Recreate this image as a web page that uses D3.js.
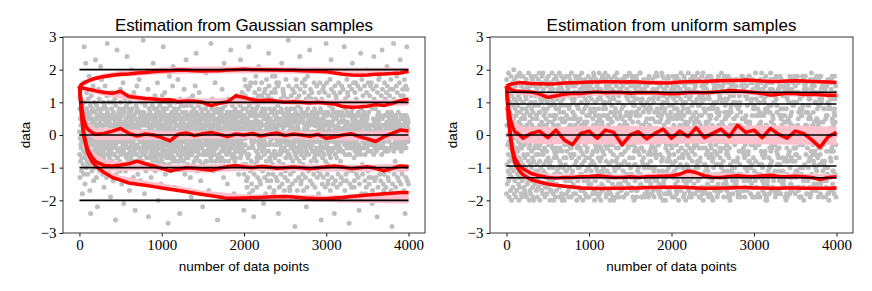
<!DOCTYPE html>
<html>
<head>
<meta charset="utf-8">
<script src="https://cdn.jsdelivr.net/npm/d3@7"></script>
<style>
  body { margin: 0; background: #fff; }
  svg { display: block; }
</style>
</head>
<body>
<svg id="chart" width="872" height="291"></svg>
<script>
// ---------------- data ----------------
const xTicks = [0, 1000, 2000, 3000, 4000];
const yTicks = [-3, -2, -1, 0, 1, 2, 3];
const titles = ["Estimation from Gaussian samples", "Estimation from uniform samples"];
const xLabel = "number of data points";
const yLabel = "data";

// samples, one every 2 data points; each pair of digits = value*10 + 30
const sampleStep = 2;
const gaussSamples = `
31243817293541222733 26443019362823391234 29372132462530183557 40233328153136245229 34202738314326223037
18332925413521312748 24303613283933220632 37274230231934293825 31213545273216302440 28342237312629533320
35253017392832243608 23382733213044263529 41291931342537222851 26363024473320382731 32183529254023313614
30273922332845262134 24353138173027422958 37212833263631194025 29342330482735243211 36253220293826334328
22314027351630372433 33282436304121293404 27393218263135235630 31233629422533202837 25342838223019353144
40263124332837152932 28362132274630253809 34293726203324314127 19322735302339283454 33243042283622312638
21372634132932402531 30283523372750332236 38322429342128173626 27433136253035220733 35262031392429373245
24333827301834264129 32222947263531232837 16363325312840302134 29312435223726593327 37253430281236243139
26402833193125352923 33293621342744302605 28352331382632203730 41243036273317293525 23323928312234265236
31272534203829332442 36193326303523312837 25383022462934273210 30332137282436313926 34263128351530233340
22362942273225383157 35243730263321284329 29311834382730362332 38283325314024293503 27353021362632482834
31233933291935273025 24372831342945223651 36302635233228381431 30253427403122332937 20332936283531264724
33273824312236302806 28412532352723343139 35293126203730243328 26342239303244282536 31183528332630375323
39302733243629213235 23323629314125342730 32263035172833392411 29372431362532274233 34213328303826313522
27363145252934233055 37282330343219362926 25333927312435304332 30223436283327163138 33312629372132352408
21353033274029253631 36273224343038222849 28392531223527333036 31243728332613342927 40302835253236292358
26333122382830354124 32293627301933253437 24352833463126302229 35273038263429373104 29322331352840243327
33203429273631223830 27373025322335442834 38262934303117273652 22313528333925322630 31362732243034293715
30283326413522312736 25342937312733203056 34302432283626353923 28233730352931243312 36322733223038282534
23293526314227333037 33373028342532183627 29253136263339302353 37312824322935264330 26343231273821362907
32183625304733274235 29452133381631243414 35301731233744332657 24323912343045363119 31463337292215284032
27383013364126342905 36291832284333213746 30334835253138142334 22363117392442332851 34274430263216313629
28152334372933464230 33253819313627204109 26353043242817373144 38122733302235473236 31342516363342311855
25304531271423383428 35223216333037434124 29374834213118333012 32273413382536442348 24432936172730354632
37301633283924453506 30463122341433293725 27243541291838263052 33152837253021443243 21344229362613283317
36281935234727342938 28332541371635302459 31453728332414362713 34301823323826423540 26353315274436222834
30193627342543383102 35322416293728472645 23413136133325343928 32361725354222312754 29443430263815243616
37253046283418272135 27132931362343303247 33284526173124374108 25363214332748343831 31192735244236283356
36271630442629352241 28344337271531253611 30253618293546332338 34142824334137263150 22334536281725303519
35293412322443312837 29462633183827323404 32283741251535232944 26321735334531362430 33432829142234273758
30274636263118342115 37162530422832263339 24343147331323302953 31443633173034253820 28331526374329353106
35263245292416372842 27413531231436283226 33371825314627303449 30322643342815222910 36173130453725343235
25354429321630362857 32302713244138293318 29341631284726303743 34274233361932243103 31452428153036272639
26293714304428333552 38311934263246362314 30163327432535293246 27284136183331243430 33452630371734312707
31251529333644323055 24333038123147352621 35182842342633303740 29364527301624332812 32273414284331263550
36311933254627373017 28153230422933283145 30292546311730273809 33133028442735312454 27413429163326303238
34281731452533352905 30432736143134263747 26354832331828363020 32163527294231243356 35274433312615302813
29183630462831332541 31361426324330293451 33453137173025323616 28311930354234312944 36264732133337273102
30342715314432362658 25413518333027343222 33281436294535263048 30432917273428333710 34162633462832293153
27334229153625352819 32183527443133302642 29361332284727343506 35314534172636293257 31443316352932283415
`;
const unifSamples = `
12473321381544273019 41244916352811432237 18314526134034482029 36102342173246253914 27441935502230124133
47163824294511362140 20331348263743183125 39284215341023461749 14413037222748331235 45192611433816294021
32481740241436442713 23354629124220313847 41113319372845152430 16442249311839264310 34271336452112402942
48203825163347233514 11372943221031461839 26451532404819274224 43133621283544113017 19314714392426374933
37221045274115322046 28403418133043482512 15492438441936213341 46264211313714291735 22331847251240453828
40143023483427164320 31432136104622391344 13294527411749342616 44361240202933104723 25183930354211243648
38472613231541301932 17254433463820432811 49321422372635184540 21393148124428251034 35114117302047372342
10422734433116213919 42234812193625453227 29163544281342114838 14462039334730261624 33301126492318413545
46193731154024122943 24412814362145334817 12354322473010392631 39271646203438144223 20483229114426351847
43132540331849213728 30374510244213314416 17223438472733461241 45311923391136254034 26444016284820431530
11362342321445283821 37154730194129172446 22431235442533493113 48283821103716402736 16403047262043124525
34191433414623381144 27493618351231224229 41102644233247153419 13334825384318362040 36241739142940274932
47383111452212442617 19264236293548163343 32452113401827411035 25123746174734303922 44341527321142244628
10414620483619371431 38172943222645113049 23473531124021432615 42201140371533284436 15324424463013472138
35432414274539193211 28113947332216344825 46291636184231123744 12483321412746261530 31214329144923403518
43362045301737132742 18144832473411452339 40422710253930214116 21263744361348321147 37451328194125463420
14304538432417362849 49183115264640114433 26412241113314392137 33234725392044284612 11381746344529163243
45354013212812473824 20112837481641332530 39463522153826204317 24271243304735441341 32404319421120313726
48162534243046234914 16443848174332132736 41311927371215423445 13244611453538291822 36492939281923484010
29154216334447371231 44381431102630174627 19223445414012253648 34472320351343392418 22123642183727143144
30431826461139214835 45172941332414441938 11364722154231274013 27481235382045163243 42253710294723361428
18334430211341492637 35142646433117243920 23401138163648331245 47293419402510423016 15442143271833374624
38204913344428112341 26371632471242303519 43113125193922461748 12474036262915344427 33241448124537202940
46352717412131134922 20164339313447261136 39422211231713413330 14283645484026184212 29491028143244382146
41134521372619294734 24333044204612431525 48191734421138233641 17433812283527483114 36262447114316332239
10384623392040144429 32451331251430462718 44213540463724113847 21122815334845361332 37414226172318254121
13302049443134402845 45473318221511194626 28174837354139301635 40361524132725473711 19244143483646122344
31112614301021423338 47393732194514284520 16281246402242351831 35443020273329154047 22154539164736222913
43322311381812394325 12423942214033311137 30251829452848173546 48134335321326442416 25461423113520274230
14363447434245131941 39204716242531344822 33482233341617463212 20314027154641211436 46112744473223383927
27391119293843162649 41223630411428454318 11454638184412331740 36272921372136114733 18344246253049292124
44162013444716403615 23413240123724254543 38104833331146421028 15381628464319143037 32233912202639374421
49472543393413222746 26144436141835471632 40333017314027194211 13431247482941312539 37213724261232441323
21441926164521364845 45124538353147173330 29362315421915283814 16303445223644431142 34461432102338122926
42184111454322344635 24402844342512482017 47153630131533233744 17331322283946401431 39264740404826184322
12452426191740322447 31193148433314433513 46374314231130274138 20111837314236111828 36423820482720394716
14281046164448213245 43483329372429461233 28174412263717163920 35392241411442362341 11234735123025304918
45442917334613242737 22321543472134451425 40134024204047134348 19353531381523333411 33472639283439412129
48241216154844264043 16414345442211191734 30163827212831384622 44302011354345143616 25453136461820471240
38124642103928322931 13381723322541224447 46264148253515341913 27192533421237483836 41433418304527112342
`;

// running estimates (red), sampled at estX
const estX = [0, 25, 50, 75, 100, 150, 200, 300, 400, 500, 600, 700, 800, 900, 1000,
  1100, 1200, 1300, 1400, 1500, 1600, 1700, 1800, 1900, 2000, 2100, 2200, 2300, 2400, 2500,
  2600, 2700, 2800, 2900, 3000, 3100, 3200, 3300, 3400, 3500, 3600, 3700, 3800, 3900, 4000];

const gaussEst = [
  [1.5, 1.55, 1.58, 1.62, 1.65, 1.7, 1.74, 1.79, 1.83, 1.86, 1.87, 1.9, 1.91, 1.94, 1.96,
   1.97, 1.99, 1.98, 1.97, 1.96, 1.97, 1.97, 1.99, 2.0, 2.01, 2.0, 2.0, 1.99, 1.99, 1.98,
   1.98, 1.97, 1.96, 1.95, 1.94, 1.9, 1.86, 1.84, 1.83, 1.84, 1.86, 1.87, 1.88, 1.9, 1.95],
  [1.5, 1.45, 1.43, 1.42, 1.4, 1.38, 1.35, 1.3, 1.28, 1.34, 1.18, 1.15, 1.12, 1.1, 1.07,
   1.08, 1.02, 1.04, 1.03, 1.0, 0.9, 0.97, 1.02, 1.2, 1.15, 1.08, 1.05, 1.07, 1.03, 1.0,
   1.02, 1.0, 0.98, 1.0, 0.97, 0.95, 0.87, 0.85, 0.86, 0.88, 0.93, 0.9, 0.97, 1.05, 1.1],
  [1.5, 0.9, 0.5, 0.3, 0.18, 0.08, 0.02, 0.05, 0.12, 0.2, 0.05, -0.03, 0.03, 0.0, -0.08,
   -0.18, 0.02, 0.06, -0.02, 0.04, 0.08, 0.02, -0.05, 0.03, 0.0, 0.05, -0.03, 0.02, 0.06, -0.02,
   0.03, 0.0, -0.04, 0.02, -0.1, -0.06, 0.0, 0.04, -0.05, -0.12, -0.2, -0.05, 0.05, 0.15, 0.12],
  [1.5, 0.7, 0.1, -0.2, -0.45, -0.68, -0.82, -0.93, -0.95, -0.92, -0.88, -0.8, -0.88, -0.95, -1.02,
   -1.1, -1.05, -1.0, -1.02, -1.05, -1.08, -1.02, -0.97, -0.93, -0.97, -1.0, -0.96, -0.98, -1.02, -1.0,
   -0.98, -1.0, -1.03, -1.0, -0.97, -0.95, -0.98, -1.03, -1.0, -0.97, -1.02, -1.1, -1.02, -0.95, -0.97],
  [1.5, 0.6, 0.0, -0.3, -0.55, -0.8, -0.95, -1.15, -1.3, -1.38, -1.47, -1.51, -1.54, -1.58, -1.62,
   -1.66, -1.7, -1.74, -1.78, -1.82, -1.86, -1.9, -1.94, -1.94, -1.93, -1.92, -1.91, -1.9, -1.89, -1.88,
   -1.9, -1.92, -1.94, -1.95, -1.95, -1.93, -1.91, -1.88, -1.86, -1.84, -1.82, -1.8, -1.78, -1.76, -1.76]
];

const unifEst = [
  [1.5, 1.53, 1.55, 1.57, 1.58, 1.6, 1.6, 1.58, 1.57, 1.56, 1.57, 1.59, 1.6, 1.61, 1.62,
   1.62, 1.63, 1.63, 1.62, 1.63, 1.62, 1.61, 1.6, 1.59, 1.6, 1.62, 1.63, 1.64, 1.64, 1.65,
   1.66, 1.67, 1.67, 1.68, 1.67, 1.65, 1.64, 1.64, 1.65, 1.66, 1.65, 1.64, 1.63, 1.62, 1.61],
  [1.5, 1.45, 1.4, 1.37, 1.35, 1.34, 1.33, 1.32, 1.25, 1.15, 1.2, 1.25, 1.28, 1.27, 1.3,
   1.32, 1.29, 1.31, 1.3, 1.28, 1.3, 1.29, 1.3, 1.27, 1.26, 1.27, 1.3, 1.3, 1.29, 1.31,
   1.33, 1.36, 1.35, 1.33, 1.3, 1.27, 1.22, 1.25, 1.28, 1.27, 1.24, 1.25, 1.23, 1.22, 1.22],
  [1.5, 0.8, 0.45, 0.25, 0.1, 0.02, -0.1, 0.05, 0.12, -0.08, 0.15, -0.15, -0.3, 0.05, 0.12,
   -0.1, 0.15, 0.08, -0.3, 0.0, 0.1, -0.12, 0.05, 0.18, -0.1, 0.12, -0.05, 0.22, -0.08, 0.05,
   0.18, -0.05, 0.3, 0.08, 0.15, -0.08, 0.2, 0.02, -0.1, 0.12, 0.05, -0.15, -0.38, -0.05, 0.08],
  [1.5, 0.5, -0.05, -0.45, -0.7, -0.92, -1.03, -1.18, -1.25, -1.3, -1.32, -1.3, -1.3, -1.28, -1.27,
   -1.25, -1.27, -1.3, -1.3, -1.28, -1.3, -1.28, -1.27, -1.26, -1.25, -1.2, -1.1, -1.15, -1.25, -1.3,
   -1.3, -1.27, -1.25, -1.27, -1.28, -1.25, -1.23, -1.27, -1.28, -1.26, -1.28, -1.3, -1.36, -1.3, -1.28],
  [1.5, 0.45, -0.15, -0.55, -0.85, -1.08, -1.22, -1.37, -1.44, -1.5, -1.54, -1.57, -1.59, -1.62, -1.63,
   -1.64, -1.64, -1.63, -1.63, -1.62, -1.62, -1.61, -1.61, -1.6, -1.6, -1.6, -1.61, -1.62, -1.63, -1.63,
   -1.62, -1.62, -1.61, -1.61, -1.62, -1.62, -1.63, -1.63, -1.62, -1.62, -1.63, -1.63, -1.63, -1.63, -1.62]
];

// spread of the other runs (pink), sampled at bandX
const bandX = [0, 50, 100, 200, 300, 500, 750, 1000, 1500, 2000, 2500, 3000, 3500, 4000];

const gaussBandHi = [
  [1.5, 1.65, 1.72, 1.82, 1.88, 1.96, 2.02, 2.07, 2.1, 2.1, 2.08, 2.07, 2.06, 2.06],
  [1.5, 1.5, 1.48, 1.42, 1.38, 1.32, 1.2, 1.15, 1.12, 1.14, 1.1, 1.08, 1.07, 1.1],
  [1.5, 0.7, 0.35, 0.2, 0.22, 0.2, 0.15, 0.12, 0.13, 0.12, 0.12, 0.1, 0.12, 0.15],
  [1.5, 0.4, -0.25, -0.6, -0.75, -0.82, -0.78, -0.9, -0.9, -0.88, -0.9, -0.9, -0.9, -0.88],
  [1.5, 0.3, -0.4, -0.85, -1.05, -1.25, -1.38, -1.48, -1.7, -1.82, -1.82, -1.85, -1.8, -1.75]
];
const gaussBandLo = [
  [1.5, 1.52, 1.58, 1.66, 1.72, 1.78, 1.82, 1.86, 1.88, 1.89, 1.88, 1.86, 1.85, 1.87],
  [1.5, 1.38, 1.33, 1.25, 1.2, 1.12, 1.02, 0.97, 0.92, 0.93, 0.93, 0.9, 0.86, 0.9],
  [1.5, 0.3, 0.0, -0.15, -0.15, -0.15, -0.15, -0.15, -0.12, -0.12, -0.12, -0.15, -0.18, -0.15],
  [1.5, -0.3, -0.75, -1.0, -1.1, -1.1, -1.08, -1.12, -1.15, -1.1, -1.1, -1.12, -1.12, -1.12],
  [1.5, -0.2, -0.7, -1.05, -1.25, -1.42, -1.55, -1.65, -1.85, -1.98, -2.02, -2.05, -2.08, -2.1]
];
const unifBandHi = [
  [1.5, 1.6, 1.62, 1.64, 1.64, 1.62, 1.65, 1.67, 1.68, 1.67, 1.69, 1.71, 1.7, 1.67],
  [1.5, 1.45, 1.4, 1.38, 1.36, 1.3, 1.33, 1.35, 1.35, 1.33, 1.37, 1.36, 1.33, 1.3],
  [1.5, 0.75, 0.4, 0.25, 0.25, 0.25, 0.25, 0.28, 0.28, 0.25, 0.28, 0.3, 0.28, 0.25],
  [1.5, 0.3, -0.45, -0.95, -1.1, -1.18, -1.2, -1.2, -1.2, -1.15, -1.15, -1.18, -1.18, -1.2],
  [1.5, 0.0, -0.75, -1.15, -1.3, -1.45, -1.53, -1.57, -1.58, -1.56, -1.58, -1.58, -1.58, -1.57]
];
const unifBandLo = [
  [1.5, 1.5, 1.53, 1.55, 1.55, 1.53, 1.55, 1.58, 1.59, 1.57, 1.6, 1.62, 1.61, 1.57],
  [1.5, 1.3, 1.25, 1.22, 1.2, 1.1, 1.15, 1.2, 1.22, 1.2, 1.25, 1.22, 1.18, 1.17],
  [1.5, 0.2, -0.1, -0.25, -0.25, -0.28, -0.28, -0.28, -0.3, -0.27, -0.25, -0.28, -0.3, -0.3],
  [1.5, -0.3, -0.9, -1.2, -1.3, -1.35, -1.36, -1.36, -1.35, -1.32, -1.34, -1.33, -1.35, -1.35],
  [1.5, -0.3, -1.0, -1.35, -1.45, -1.57, -1.62, -1.66, -1.67, -1.65, -1.67, -1.67, -1.67, -1.67]
];

// true values (black)
const gaussLevels = [2, 1, 0, -1, -2];
const unifLevels = [1.31, 0.95, 0, -0.95, -1.31];

// ---------------- drawing ----------------
const svg = d3.select('#chart');
const plotTop = 37, plotBottom = 233;

function decode(str) {
  const out = [];
  str.trim().split(/\s+/).forEach(tok => {
    for (let k = 0; k + 1 < tok.length; k += 2) out.push((+tok.slice(k, k + 2) - 30) / 10);
  });
  return out;
}

const panels = [
  { id: 0, left: 63, right: 425, title: titles[0], samples: gaussSamples, est: gaussEst,
    hi: gaussBandHi, lo: gaussBandLo, levels: gaussLevels, titleLen: 258 },
  { id: 1, left: 490, right: 853, title: titles[1], samples: unifSamples, est: unifEst,
    hi: unifBandHi, lo: unifBandLo, levels: unifLevels, titleLen: 250 }
];

panels.forEach(p => {
  const x = d3.scaleLinear().domain([-200, 4200]).range([p.left, p.right]);
  const y = d3.scaleLinear().domain([-3, 3]).range([plotBottom, plotTop]);
  const g = svg.append('g');

  svg.append('clipPath').attr('id', 'clip' + p.id)
    .append('rect')
    .attr('x', p.left).attr('y', plotTop)
    .attr('width', p.right - p.left).attr('height', plotBottom - plotTop);

  const plot = g.append('g').attr('clip-path', `url(#clip${p.id})`);

  // samples
  plot.append('g').selectAll('circle')
    .data(decode(p.samples))
    .join('circle')
    .attr('cx', (d, i) => x(i * sampleStep))
    .attr('cy', d => y(d))
    .attr('r', 2.5)
    .attr('fill', '#bfbfbf');

  // spread of runs
  const area = d3.area()
    .x((d, i) => x(bandX[i]))
    .y0(d => y(d[0]))
    .y1(d => y(d[1]));
  p.lo.forEach((lo, k) => {
    plot.append('path')
      .datum(lo.map((v, i) => [v, p.hi[k][i]]))
      .attr('d', area)
      .attr('fill', '#ffc0cb');
  });

  // estimates
  const line = d3.line().x((d, i) => x(estX[i])).y(d => y(d));
  p.est.forEach(e => {
    plot.append('path')
      .datum(e)
      .attr('d', line)
      .attr('fill', 'none')
      .attr('stroke', '#ff0000')
      .attr('stroke-width', 3.5)
      .attr('stroke-linejoin', 'round');
  });

  // true values
  plot.selectAll('.level')
    .data(p.levels)
    .join('line')
    .attr('class', 'level')
    .attr('x1', x(0)).attr('x2', x(4000))
    .attr('y1', d => y(d)).attr('y2', d => y(d))
    .attr('stroke', '#000')
    .attr('stroke-width', 1.6);

  // axes
  const xAxis = g.append('g')
    .attr('transform', `translate(0,${plotBottom})`)
    .call(d3.axisBottom(x).tickValues(xTicks).tickSize(3.5).tickPadding(3).tickFormat(d3.format('d')));
  const yAxis = g.append('g')
    .attr('transform', `translate(${p.left},0)`)
    .call(d3.axisLeft(y).tickValues(yTicks).tickSize(3.5).tickPadding(3).tickFormat(d3.format('d')));
  [xAxis, yAxis].forEach(a => {
    a.select('.domain').remove();
    a.selectAll('.tick line').attr('stroke', '#000').attr('stroke-width', 0.9);
    a.selectAll('.tick text')
      .attr('fill', '#000')
      .style('font-family', '"Liberation Serif", "DejaVu Serif", serif')
      .style('font-size', '15px');
  });

  g.append('rect')
    .attr('x', p.left).attr('y', plotTop)
    .attr('width', p.right - p.left).attr('height', plotBottom - plotTop)
    .attr('fill', 'none')
    .attr('stroke', '#222')
    .attr('stroke-width', 0.9);

  const cx = (p.left + p.right) / 2;
  g.append('text')
    .attr('x', cx).attr('y', 31)
    .attr('text-anchor', 'middle')
    .attr('textLength', p.titleLen)
    .style('font-family', '"Liberation Sans", Arial, sans-serif')
    .style('font-size', '17px')
    .text(p.title);

  g.append('text')
    .attr('x', cx).attr('y', 271)
    .attr('text-anchor', 'middle')
    .style('font-family', '"Liberation Sans", Arial, sans-serif')
    .style('font-size', '13.5px')
    .text(xLabel);

  g.append('text')
    .attr('transform', `translate(${p.left - 33},${(plotTop + plotBottom) / 2}) rotate(-90)`)
    .attr('text-anchor', 'middle')
    .style('font-family', '"Liberation Sans", Arial, sans-serif')
    .style('font-size', '13.5px')
    .text(yLabel);
});
</script>
</body>
</html>
